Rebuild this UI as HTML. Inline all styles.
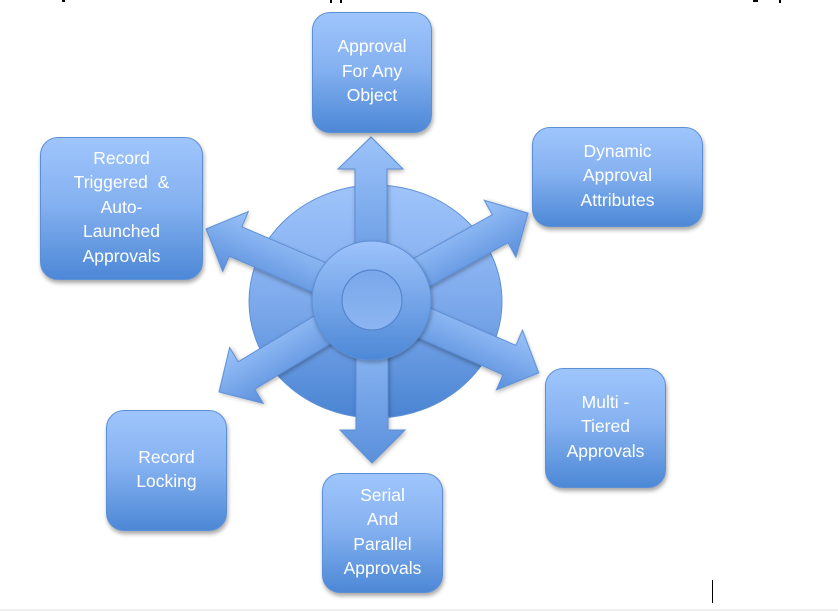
<!DOCTYPE html>
<html>
<head>
<meta charset="utf-8">
<style>
  html, body { margin:0; padding:0; }
  body { width:838px; height:611px; position:relative; overflow:hidden; background:#ffffff; font-family:"Liberation Sans", Arial, sans-serif; }
  .box {
    position:absolute; box-sizing:border-box;
    border:1px solid #5b8fd6; border-radius:18px;
    background:linear-gradient(to bottom, #9fc5fc 0%, #86b2f1 45%, #4d88d6 100%);
    box-shadow:1px 3px 4px rgba(0,0,0,0.35);
    color:#ffffff; font-size:17.5px; line-height:24.5px; text-align:center;
    display:flex; align-items:center; justify-content:center;
    padding-bottom:3px;
  }
  .mark { position:absolute; background:#000; }
</style>
</head>
<body>
  <div class="mark" style="left:62px;top:0;width:3px;height:2px;"></div>
  <div class="mark" style="left:330px;top:0;width:2px;height:3px;"></div>
  <div class="mark" style="left:340px;top:0;width:2px;height:3px;"></div>
  <div class="mark" style="left:753px;top:0;width:5px;height:2px;"></div>
  <div class="mark" style="left:779px;top:0;width:2px;height:3px;"></div>

  <svg width="838" height="611" style="position:absolute;left:0;top:0;" xmlns="http://www.w3.org/2000/svg">
    <defs>
      <linearGradient id="gBig" x1="0" y1="0" x2="0" y2="1">
        <stop offset="0" stop-color="#9fc4fa"/>
        <stop offset="0.5" stop-color="#7eaaec"/>
        <stop offset="1" stop-color="#4a84d2"/>
      </linearGradient>
      <linearGradient id="gArr" x1="0" y1="0" x2="0" y2="1">
        <stop offset="0" stop-color="#9cc3fa"/>
        <stop offset="1" stop-color="#5a90dc"/>
      </linearGradient>
      <linearGradient id="gRing" x1="0" y1="0" x2="0" y2="1">
        <stop offset="0" stop-color="#9dc3fb"/>
        <stop offset="1" stop-color="#4d88d6"/>
      </linearGradient>
      <linearGradient id="gHole" x1="0" y1="0" x2="0" y2="1">
        <stop offset="0" stop-color="#7aa7ea"/>
        <stop offset="1" stop-color="#8cb6f2"/>
      </linearGradient>
      <filter id="sh" x="-20%" y="-20%" width="140%" height="140%">
        <feDropShadow dx="1" dy="2" stdDeviation="2" flood-color="#000" flood-opacity="0.3"/>
      </filter>
    </defs>

    <ellipse cx="375.5" cy="301.5" rx="126.5" ry="116.5" fill="url(#gBig)" stroke="#5f91d6" stroke-width="1"/>

    <polygon points="355,300 355,169 338,169 371,137 403,169 387,169 387,300" fill="url(#gArr)" stroke="#5b8fd6" stroke-width="1" filter="url(#sh)"/>
    <polygon points="356,300 356,430 340,430 372,463 405,430 388,430 388,300" fill="url(#gArr)" stroke="#5b8fd6" stroke-width="1" filter="url(#sh)"/>

    <g transform="translate(372,300) rotate(-29.1)">
      <polygon points="0,-16 146.6,-16 146.6,-32.5 178.6,0 146.6,32.5 146.6,16 0,16" fill="url(#gArr)" stroke="#5b8fd6" stroke-width="1" filter="url(#sh)"/>
    </g>
    <g transform="translate(372,300) rotate(23.6)">
      <polygon points="0,-16 150,-16 150,-32.5 182,0 150,32.5 150,16 0,16" fill="url(#gArr)" stroke="#5b8fd6" stroke-width="1" filter="url(#sh)"/>
    </g>
    <g transform="translate(372,300) rotate(23.2)">
      <polygon points="0,-16 -148.5,-16 -148.5,-32.5 -180.5,0 -148.5,32.5 -148.5,16 0,16" fill="url(#gArr)" stroke="#5b8fd6" stroke-width="1" filter="url(#sh)"/>
    </g>
    <g transform="translate(372,300) rotate(-31)">
      <polygon points="0,-16 -146.5,-16 -146.5,-32.5 -178.5,0 -146.5,32.5 -146.5,16 0,16" fill="url(#gArr)" stroke="#5b8fd6" stroke-width="1" filter="url(#sh)"/>
    </g>

    <circle cx="371.5" cy="300.5" r="59.5" fill="url(#gRing)" stroke="#5b8fd6" stroke-width="1" filter="url(#sh)"/>
    <circle cx="372" cy="300" r="30" fill="url(#gHole)" stroke="#5585cc" stroke-width="1.2"/>
  </svg>

  <div class="box" style="left:312px;top:12px;width:120px;height:121px;">Approval<br>For Any<br>Object</div>
  <div class="box" style="left:532px;top:127px;width:171px;height:100px;">Dynamic<br>Approval<br>Attributes</div>
  <div class="box" style="left:40px;top:137px;width:163px;height:143px;">Record<br>Triggered&nbsp; &amp;<br>Auto-<br>Launched<br>Approvals</div>
  <div class="box" style="left:545px;top:368px;width:121px;height:120px;">Multi -<br>Tiered<br>Approvals</div>
  <div class="box" style="left:106px;top:410px;width:121px;height:121px;">Record<br>Locking</div>
  <div class="box" style="left:322px;top:473px;width:121px;height:120px;">Serial<br>And<br>Parallel<br>Approvals</div>

  <div style="position:absolute;left:712px;top:580px;width:1px;height:23px;background:#000;"></div>
  <div style="position:absolute;left:0;top:609px;width:838px;height:2px;background:#eeeeee;"></div>
</body>
</html>
